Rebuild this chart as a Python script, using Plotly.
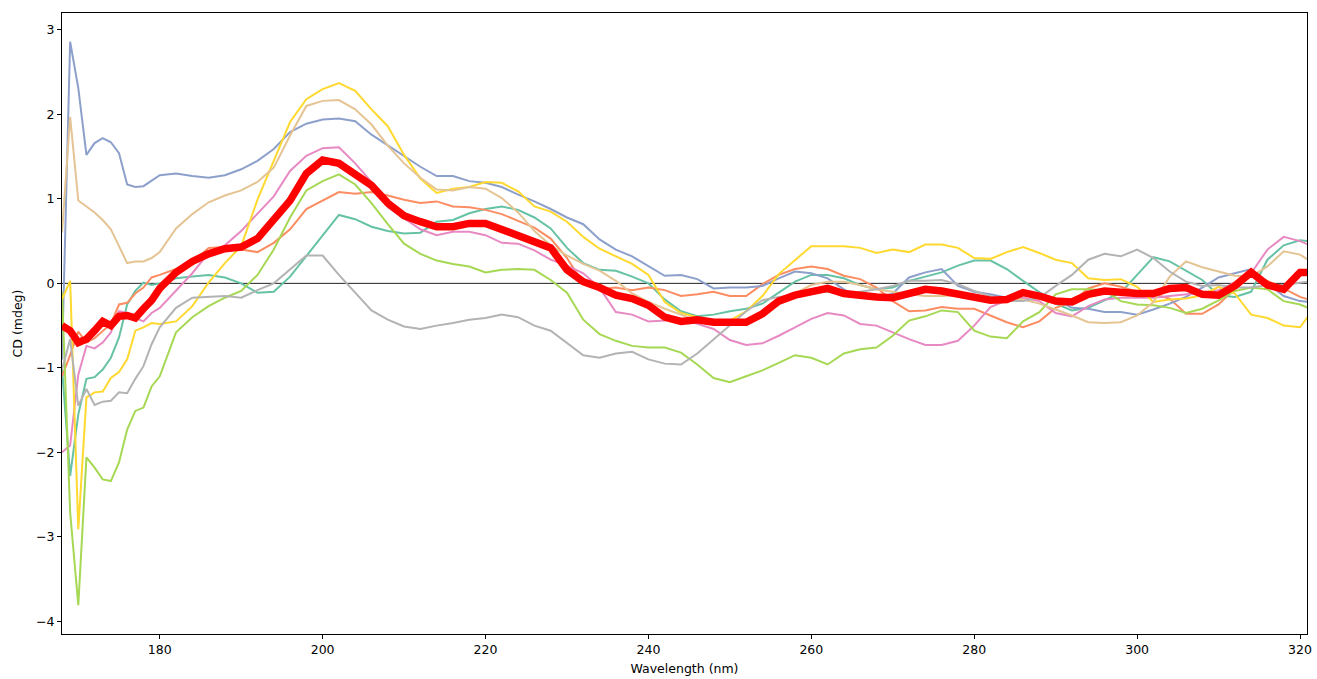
import plotly.graph_objects as go

wavelength = [168, 169, 170, 171, 172, 173, 174, 175, 176, 177, 178, 179, 180,
              182, 184, 186, 188, 190, 192, 194, 196, 198, 200, 202, 204, 206, 208,
              210, 212, 214, 216, 218, 220, 222, 224, 226, 228, 230, 232, 234, 236,
              238, 240, 242, 244, 246, 248, 250, 252, 254, 256, 258, 260, 262, 264,
              266, 268, 270, 272, 274, 276, 278, 280, 282, 284, 286, 288, 290, 292,
              294, 296, 298, 300, 302, 304, 306, 308, 310, 312, 314, 316, 318, 320, 321]

teal = [-1.0, -2.28, -1.55, -1.13, -1.11, -1.02, -0.88, -0.64, -0.25, -0.09, 0.01, -0.02, 0.0,
        0.06, 0.08, 0.10, 0.07, 0.0, -0.11, -0.10, 0.08, 0.32, 0.56, 0.81, 0.76, 0.67, 0.62,
        0.59, 0.60, 0.73, 0.75, 0.83, 0.88, 0.91, 0.87, 0.78, 0.65, 0.42, 0.24, 0.16, 0.15,
        0.08, 0.0, -0.19, -0.33, -0.39, -0.37, -0.33, -0.30, -0.24, -0.11, 0.02, 0.10, 0.10, 0.06,
        -0.02, -0.07, -0.05, 0.03, 0.08, 0.13, 0.21, 0.27, 0.27, 0.17, 0.03, -0.10, -0.24, -0.32,
        -0.29, -0.20, -0.11, 0.10, 0.31, 0.26, 0.15, 0.04, -0.14, -0.16, -0.10, 0.28, 0.45, 0.51, 0.50]

orange = [-1.1, -0.85, -0.57, -0.70, -0.65, -0.56, -0.48, -0.25, -0.23, -0.12, -0.05, 0.07, 0.10,
          0.17, 0.25, 0.42, 0.43, 0.40, 0.37, 0.48, 0.64, 0.88, 0.98, 1.08, 1.06, 1.08, 1.04,
          0.99, 0.95, 0.97, 0.91, 0.90, 0.87, 0.82, 0.74, 0.66, 0.53, 0.30, 0.0, -0.07, -0.05,
          -0.08, -0.05, -0.08, -0.15, -0.13, -0.10, -0.15, -0.15, -0.01, 0.10, 0.17, 0.20, 0.17, 0.09,
          0.05, -0.05, -0.21, -0.33, -0.32, -0.28, -0.30, -0.30, -0.38, -0.46, -0.52, -0.45, -0.29, -0.22,
          -0.06, 0.0, -0.04, -0.10, -0.13, -0.18, -0.36, -0.36, -0.25, -0.06, 0.09, 0.03, -0.06, -0.16, -0.19]

blue = [-0.9, 2.86, 2.31, 1.52, 1.66, 1.72, 1.67, 1.54, 1.17, 1.14, 1.15, 1.22, 1.28,
        1.30, 1.27, 1.25, 1.28, 1.35, 1.45, 1.59, 1.79, 1.89, 1.94, 1.95, 1.92, 1.76, 1.63,
        1.51, 1.38, 1.27, 1.27, 1.21, 1.19, 1.14, 1.05, 0.97, 0.88, 0.78, 0.70, 0.52, 0.40,
        0.32, 0.20, 0.09, 0.10, 0.05, -0.06, -0.05, -0.05, -0.03, 0.06, 0.14, 0.12, 0.06, -0.07,
        -0.17, -0.18, -0.12, 0.07, 0.13, 0.17, -0.03, -0.10, -0.13, -0.17, -0.12, -0.11, -0.19, -0.29,
        -0.30, -0.34, -0.34, -0.37, -0.31, -0.24, -0.16, -0.05, 0.07, 0.12, 0.17, 0.0, -0.15, -0.21, -0.22]

pink = [-2.0, -1.92, -1.08, -0.74, -0.77, -0.70, -0.58, -0.33, -0.35, -0.41, -0.45, -0.35, -0.29,
        -0.08, 0.12, 0.36, 0.45, 0.62, 0.82, 1.03, 1.33, 1.51, 1.60, 1.61, 1.42, 1.20, 0.90,
        0.77, 0.64, 0.57, 0.61, 0.61, 0.57, 0.48, 0.47, 0.39, 0.28, 0.21, 0.12, -0.05, -0.34,
        -0.37, -0.45, -0.44, -0.42, -0.48, -0.54, -0.67, -0.73, -0.71, -0.62, -0.52, -0.42, -0.35, -0.38,
        -0.48, -0.50, -0.58, -0.66, -0.73, -0.73, -0.68, -0.50, -0.28, -0.20, -0.17, -0.21, -0.35, -0.39,
        -0.27, -0.19, -0.17, -0.17, -0.17, -0.15, -0.13, -0.11, -0.08, 0.01, 0.12, 0.40, 0.55, 0.50, 0.46]

green = [-0.1, -2.71, -3.81, -2.06, -2.18, -2.32, -2.34, -2.12, -1.73, -1.51, -1.47, -1.22, -1.10,
         -0.58, -0.40, -0.27, -0.17, -0.09, 0.10, 0.40, 0.78, 1.10, 1.21, 1.29, 1.17, 0.95, 0.70,
         0.47, 0.35, 0.27, 0.23, 0.20, 0.13, 0.16, 0.17, 0.16, 0.04, -0.11, -0.43, -0.60, -0.68,
         -0.74, -0.76, -0.76, -0.82, -0.96, -1.12, -1.17, -1.10, -1.03, -0.94, -0.85, -0.88, -0.96, -0.83,
         -0.78, -0.76, -0.62, -0.44, -0.39, -0.32, -0.34, -0.56, -0.63, -0.65, -0.45, -0.34, -0.13, -0.07,
         -0.07, -0.08, -0.21, -0.25, -0.26, -0.29, -0.35, -0.30, -0.20, -0.09, -0.05, -0.07, -0.21, -0.25, -0.29]

yellow = [-0.19, 0.03, -2.91, -1.35, -1.29, -1.28, -1.12, -1.05, -0.90, -0.56, -0.52, -0.47, -0.48,
          -0.45, -0.27, 0.01, 0.24, 0.44, 0.99, 1.45, 1.91, 2.18, 2.30, 2.37, 2.28, 2.06, 1.86,
          1.52, 1.24, 1.07, 1.12, 1.14, 1.20, 1.19, 1.09, 0.91, 0.85, 0.73, 0.55, 0.41, 0.32,
          0.23, 0.10, -0.22, -0.35, -0.40, -0.47, -0.44, -0.33, -0.15, 0.11, 0.27, 0.44, 0.44, 0.44,
          0.42, 0.36, 0.40, 0.37, 0.46, 0.46, 0.42, 0.30, 0.29, 0.37, 0.43, 0.36, 0.28, 0.24,
          0.06, 0.04, 0.05, -0.04, -0.22, -0.19, -0.18, -0.14, -0.04, -0.12, -0.37, -0.41, -0.50, -0.52, -0.39]

tan = [0.6, 1.97, 0.98, 0.91, 0.84, 0.75, 0.64, 0.44, 0.24, 0.26, 0.26, 0.30, 0.37,
       0.65, 0.82, 0.96, 1.04, 1.10, 1.20, 1.37, 1.75, 2.10, 2.16, 2.17, 2.06, 1.88, 1.63,
       1.42, 1.25, 1.11, 1.10, 1.14, 1.12, 1.01, 0.84, 0.62, 0.45, 0.33, 0.23, 0.15, 0.03,
       -0.12, -0.22, -0.30, -0.37, -0.44, -0.47, -0.45, -0.43, -0.34, -0.22, -0.12, -0.02, 0.02, 0.02,
       -0.02, -0.07, -0.10, -0.13, -0.15, -0.15, -0.14, -0.17, -0.18, -0.18, -0.19, -0.24, -0.31, -0.38,
       -0.46, -0.47, -0.46, -0.38, -0.22, 0.08, 0.26, 0.19, 0.14, 0.09, 0.08, 0.20, 0.38, 0.34, 0.28]

gray = [-1.02, -0.66, -1.45, -1.25, -1.44, -1.40, -1.39, -1.29, -1.30, -1.13, -0.98, -0.72, -0.52,
        -0.29, -0.17, -0.16, -0.15, -0.17, -0.08, 0.0, 0.17, 0.33, 0.33, 0.10, -0.11, -0.32, -0.43,
        -0.51, -0.54, -0.50, -0.47, -0.43, -0.41, -0.37, -0.40, -0.50, -0.56, -0.70, -0.85, -0.88, -0.83,
        -0.81, -0.90, -0.95, -0.96, -0.83, -0.66, -0.50, -0.33, -0.20, -0.16, -0.14, -0.11, -0.10, -0.13,
        -0.10, -0.07, -0.03, 0.03, 0.03, 0.04, -0.01, -0.09, -0.15, -0.21, -0.21, -0.17, -0.03, 0.10,
        0.28, 0.35, 0.32, 0.40, 0.30, 0.14, 0.02, -0.03, -0.02, -0.05, -0.05, -0.02, -0.02, 0.01, 0.02]

mean_cd = [-0.50, -0.56, -0.70, -0.66, -0.56, -0.45, -0.50, -0.39, -0.38, -0.41, -0.30, -0.20, -0.06,
           0.13, 0.26, 0.35, 0.41, 0.43, 0.53, 0.74, 0.98, 1.30, 1.46, 1.42, 1.29, 1.16, 0.95,
           0.80, 0.73, 0.67, 0.67, 0.71, 0.71, 0.64, 0.56, 0.50, 0.42, 0.16, 0.02, -0.05, -0.14,
           -0.18, -0.26, -0.40, -0.45, -0.43, -0.46, -0.46, -0.46, -0.36, -0.21, -0.14, -0.09, -0.06, -0.12,
           -0.15, -0.16, -0.17, -0.11, -0.07, -0.09, -0.13, -0.17, -0.20, -0.19, -0.11, -0.15, -0.21, -0.22,
           -0.13, -0.09, -0.11, -0.12, -0.12, -0.06, -0.05, -0.13, -0.14, -0.03, 0.13, -0.02, -0.07, 0.13, 0.13]

x_ticks = [180, 200, 220, 240, 260, 280, 300, 320]
y_ticks = [-4, -3, -2, -1, 0, 1, 2, 3]

series = [
    (teal, "#66c2a5"),
    (orange, "#fc8d62"),
    (blue, "#8da0cb"),
    (pink, "#e78ac3"),
    (green, "#a6d854"),
    (yellow, "#ffd92f"),
    (tan, "#e5c494"),
    (gray, "#b3b3b3"),
]

fig = go.Figure()
for vals, col in series:
    fig.add_trace(go.Scatter(x=wavelength, y=vals, mode="lines",
                             line=dict(color=col, width=2), showlegend=False))
fig.add_trace(go.Scatter(x=wavelength, y=mean_cd, mode="lines",
                         line=dict(color="#ff0000", width=7.5), showlegend=False))

fig.add_shape(type="line", xref="paper", x0=0, x1=1, yref="y", y0=0, y1=0,
              line=dict(color="#222222", width=1), layer="below")

axis_common = dict(showline=True, mirror=True, linecolor="black", linewidth=1,
                   ticks="outside", ticklen=4, tickwidth=1, tickcolor="black",
                   showgrid=False, zeroline=False,
                   tickfont=dict(family="DejaVu Sans", size=12.5, color="black"))

fig.update_xaxes(range=[168, 320.86], tickmode="array", tickvals=x_ticks,
                 title=dict(text="Wavelength (nm)", font=dict(family="DejaVu Sans", size=12.5, color="black"), standoff=8),
                 **axis_common)
fig.update_yaxes(range=[-4.15, 3.20], tickmode="array", tickvals=y_ticks,
                 title=dict(text="CD (mdeg)", font=dict(family="DejaVu Sans", size=12.5, color="black"), standoff=10),
                 **axis_common)

fig.update_layout(width=1317, height=679, margin=dict(l=62, r=5, t=13, b=45),
                  plot_bgcolor="white", paper_bgcolor="white")

fig.write_html("out.html")
